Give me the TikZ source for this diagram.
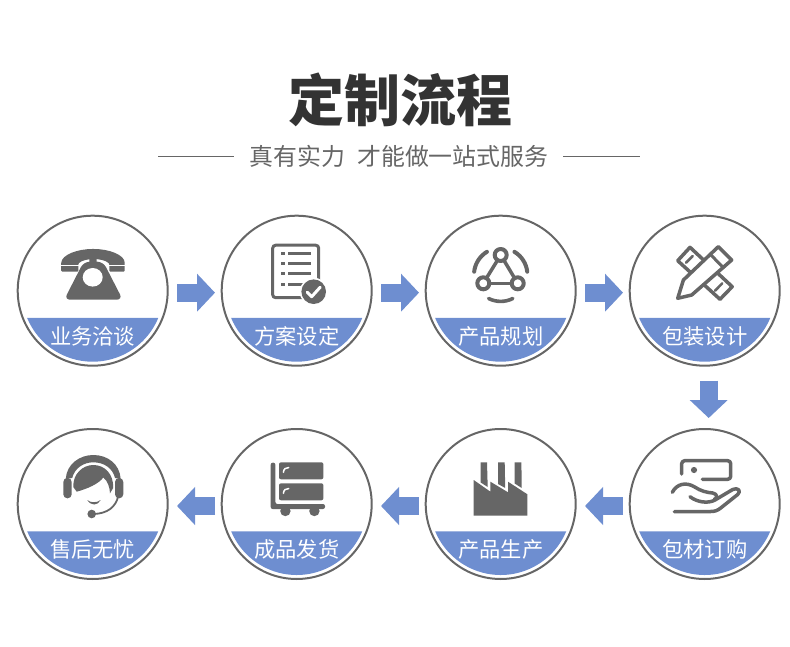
\documentclass[tikz,border=0pt]{standalone}
\usepackage{fontspec}
\setmainfont{Noto Sans CJK SC}
\usetikzlibrary{arrows.meta}
\definecolor{flowblue}{HTML}{6E8ED0}
\definecolor{icongray}{HTML}{666666}
\definecolor{titlegray}{HTML}{333333}
\tikzset{
	stepcircle/.style={circle, draw=icongray, line width=2pt, minimum size=150pt, inner sep=0pt},
	steplabel/.style={text=white, font=\fontsize{21.3}{21}\selectfont, inner sep=0pt},
	flowarrow/.style={draw=flowblue, line width=18pt, -{Triangle[length=18pt,width=37pt,flowblue]}},
	ruleline/.style={draw=icongray, line width=1pt},
	iconline/.style={draw=icongray, line width=3.5pt, line cap=round, line join=round}
}
\begin{document}
\begin{tikzpicture}[x=1pt, y=-1pt]
	\useasboundingbox (0,0) rectangle (790,647);
	\node[font=\fontsize{56}{56}\selectfont\bfseries, text=titlegray, inner sep=0pt] (title) at (400,100) {定制流程};
	\node[font=\fontsize{23.9}{24}\selectfont, text=icongray, inner sep=0pt] (subtitle) at (399,156) {真有实力\hspace*{12pt}才能做一站式服务};
	\draw[ruleline] (158,157) coordinate (ruleA) -- (234,157) coordinate (ruleB);
	\draw[ruleline] (563,157) coordinate (ruleC) -- (640,157) coordinate (ruleD);
	\foreach \name/\x/\y/\txt in {c1/92.7/290.7/业务洽谈, c2/296.7/290.7/方案设定, c3/500.7/290.7/产品规划, c4/704.7/290.7/包装设计, c5/704.7/504/包材订购, c6/500.7/504/产品生产, c7/296.7/504/成品发货, c8/92.7/504/售后无忧} {
		\node[stepcircle] (\name) at (\x,\y) {};
		\fill[flowblue] (\x,\y) ++(157.4:71) arc[start angle=157.4, end angle=22.6, radius=71] -- cycle;
		\node[steplabel] (\name label) at (\x,\y+45.6) {\txt};
	}
	\draw[flowarrow, shorten <=8.3pt, shorten >=5.7pt] ([yshift=-2pt]c1.east) -- ([yshift=-2pt]c2.west);
	\draw[flowarrow, shorten <=8.3pt, shorten >=5.7pt] ([yshift=-2pt]c2.east) -- ([yshift=-2pt]c3.west);
	\draw[flowarrow, shorten <=8.3pt, shorten >=5.7pt] ([yshift=-2pt]c3.east) -- ([yshift=-2pt]c4.west);
	\draw[flowarrow, shorten <=14pt, shorten >=10pt] ([xshift=4pt]c4.south) -- ([xshift=4pt]c5.north);
	\draw[flowarrow, shorten <=5.7pt, shorten >=8.3pt] ([yshift=-2pt]c5.west) -- ([yshift=-2pt]c6.east);
	\draw[flowarrow, shorten <=5.7pt, shorten >=8.3pt] ([yshift=-2pt]c6.west) -- ([yshift=-2pt]c7.east);
	\draw[flowarrow, shorten <=5.7pt, shorten >=8.3pt] ([yshift=-2pt]c7.west) -- ([yshift=-2pt]c8.east);
	% telephone
	\begin{scope}[shift={(c1.center)}]
		\fill[icongray, rounded corners=1pt] (-31.5,-19) -- (-31.5,-27) .. controls (-31,-36) and (-15,-41.7) .. (0.5,-41.7) .. controls (16,-41.7) and (32,-36) .. (32,-27) -- (32,-19) -- (16.6,-19) -- (16.6,-27) .. controls (10,-33) and (-8,-33) .. (-14.4,-27) -- (-14.4,-19) -- cycle;
		\draw[white, line width=1.2pt] (-32,-25.3) -- (-14,-25.3) (16,-25.3) -- (33,-25.3);
		\fill[icongray, rounded corners=1pt] (-3.4,-33) -- (4,-33) -- (4,-27) -- (-3.4,-27) -- cycle;
		\fill[icongray, rounded corners=6pt] (-9,-29) -- (10.5,-29) -- (30,9) -- (-28.5,9) -- cycle;
		\fill[white] (0,-13.4) ellipse[x radius=10, y radius=9.3];
	\end{scope}
	% document with check
	\begin{scope}[shift={(c2.center)}]
		\draw[icongray, line width=3pt, rounded corners=3pt] (-24,-45.5) rectangle (22,7);
		\foreach \ly in {-37,-27,-17,-6} {
			\fill[icongray] (-16,\ly-1.5) rectangle (-12,\ly+1.5);
			\fill[icongray] (-9,\ly-1.5) rectangle (14,\ly+1.5);
		}
		\fill[white] (17,1) circle (14);
		\fill[icongray] (17,1) circle (12.3);
		\draw[white, line width=3pt, line cap=round, line join=round] (10.5,1.5) -- (15,6) -- (23.5,-3.5);
	\end{scope}
	% triangle of nodes
	\begin{scope}[shift={(c3.center)}]
		\draw[iconline, line width=4pt] (0,-35.7) circle (6);
		\draw[iconline, line width=4pt] (-17.4,-7.4) circle (6);
		\draw[iconline, line width=4pt] (17,-7.4) circle (6);
		\draw[iconline, line cap=butt] (-3.1,-30.6) -- (-14.3,-12.5);
		\draw[iconline, line cap=butt] (3.1,-30.6) -- (13.9,-12.5);
		\draw[iconline, line cap=butt] (-11.5,-7.4) -- (11,-7.4);
		\draw[iconline, line width=4pt] (0,-16) ++(-121:26.7) arc[start angle=-121, end angle=-173.6, radius=26.7];
		\draw[iconline, line width=4pt] (0,-16) ++(-59:26.7) arc[start angle=-59, end angle=-6.4, radius=26.7];
		\draw[iconline, line width=3.6pt] (0,-16) ++(117:26.7) arc[start angle=117, end angle=63, radius=26.7];
	\end{scope}
	% pencil and ruler
	\begin{scope}[shift={(c4.center)}]
		\draw[iconline] (-14.7,-43.4) -- (-27,-30) -- (15.3,8.6) -- (27.5,-4) -- cycle;
		\draw[iconline, line width=2.6pt] (-18.7,-28) -- (-12,-34.7) (10.3,0) -- (17.6,-7.4);
		\draw[iconline, fill=white] (13.6,-44) -- (27,-30.7) -- (-13,4.3) -- (-27,7.6) -- (-21.3,-10.7) -- cycle;
		\draw[iconline, line width=3pt] (6.3,-35.7) -- (18.6,-23);
	\end{scope}
	% hand and card
	\begin{scope}[shift={(c5.center)}]
		\draw[iconline, rounded corners=3pt] (-23,-30) -- (-23,-43.3) -- (26,-43.3) -- (26,-24.7) -- (-2.4,-24.7);
		\fill[icongray] (-10.7,-34) circle (3.1);
		\draw[iconline] (-32.4,-11.7) .. controls (-28,-20) and (-19,-22.5) .. (-10,-17) .. controls (-4,-13) and (2,-11.5) .. (8,-11) .. controls (13,-10) and (13,-6) .. (9.5,-4.5);
		\draw[iconline] (-14.7,-7.3) .. controls (-8,-2) and (3,0) .. (10.3,-4) -- (28,-14.5) .. controls (33,-17) and (37,-13) .. (33,-9.5) -- (16,4) .. controls (13,6.5) and (10,7.5) .. (6,7.5) -- (-30.4,7.7);
	\end{scope}
	% factory
	\begin{scope}[shift={(c6.center)}]
		\fill[icongray] (-27,11.7) -- (-27,-24) -- (-10.3,-12.3) -- (-10.3,-22.3) -- (7.3,-11.7) -- (7.3,-22.3) -- (26.7,-9.7) -- (26.7,11.7) -- cycle;
		\fill[icongray] (-20,-41.7) -- (-13.7,-41.7) -- (-13,-17) -- (-20,-21.5) -- cycle;
		\fill[icongray] (-2.7,-41.7) -- (4,-41.7) -- (4.5,-16) -- (-2.7,-20) -- cycle;
		\fill[icongray] (14,-41.7) -- (20.7,-41.7) -- (21,-16) -- (14,-20.5) -- cycle;
	\end{scope}
	% cart
	\begin{scope}[shift={(c7.center)}]
		\fill[icongray, rounded corners=2pt] (-26,-41.3) -- (-21.3,-41.3) -- (-21.3,0) -- (28.3,0) -- (28.3,5) -- (-26,5) -- cycle;
		\fill[icongray] (-11.3,7) circle (5.2);
		\fill[icongray] (17.7,7) circle (5.2);
		\fill[icongray, rounded corners=2pt] (-17.7,-41.7) rectangle (26.7,-24.7);
		\fill[icongray, rounded corners=2pt] (-17.7,-20.7) rectangle (26.7,-3.7);
		\draw[white, line width=1.5pt, line cap=round] (-13.3,-31.7) .. controls (-13,-35) and (-11,-36.5) .. (-8,-36.5);
		\draw[white, line width=1.5pt, line cap=round] (-13.3,-10.7) .. controls (-13,-14) and (-11,-15.5) .. (-8,-15.5);
	\end{scope}
	% agent with headset
	\begin{scope}[shift={(c8.center)}]
		\fill[icongray] (-27,-25) .. controls (-26,-40) and (-13,-49) .. (0.6,-49) .. controls (15,-49) and (27,-40) .. (28,-25) -- (22.3,-26) .. controls (20,-36) and (11,-41.7) .. (0.6,-41.7) .. controls (-9,-41.7) and (-18,-36) .. (-20.5,-26) -- cycle;
		\fill[icongray, rounded corners=4pt] (-29.4,-26) rectangle (-21,-5.7);
		\fill[icongray, rounded corners=4pt] (22.3,-26) rectangle (30.6,-5.7);
		\fill[icongray] (-19.4,-17) .. controls (-20,-30) and (-10,-39) .. (0.6,-39) .. controls (12,-39) and (21,-30) .. (20.5,-16) -- (17.3,-10.7) .. controls (17,-17) and (15,-23) .. (10.6,-26.5) .. controls (6,-20) and (-6,-15) .. (-16,-12.3) -- cycle;
		\fill[icongray] (-5.4,-4) .. controls (-2,-1) and (4,-1) .. (8,-4) .. controls (5,2) and (-2,2) .. (-5.4,-4) -- cycle;
		\draw[icongray, line width=1.8pt] (25.6,-8) .. controls (23,3) and (15,9.5) .. (1,10);
		\fill[icongray] (-1,10) circle (4.3);
	\end{scope}
\end{tikzpicture}
\end{document}
